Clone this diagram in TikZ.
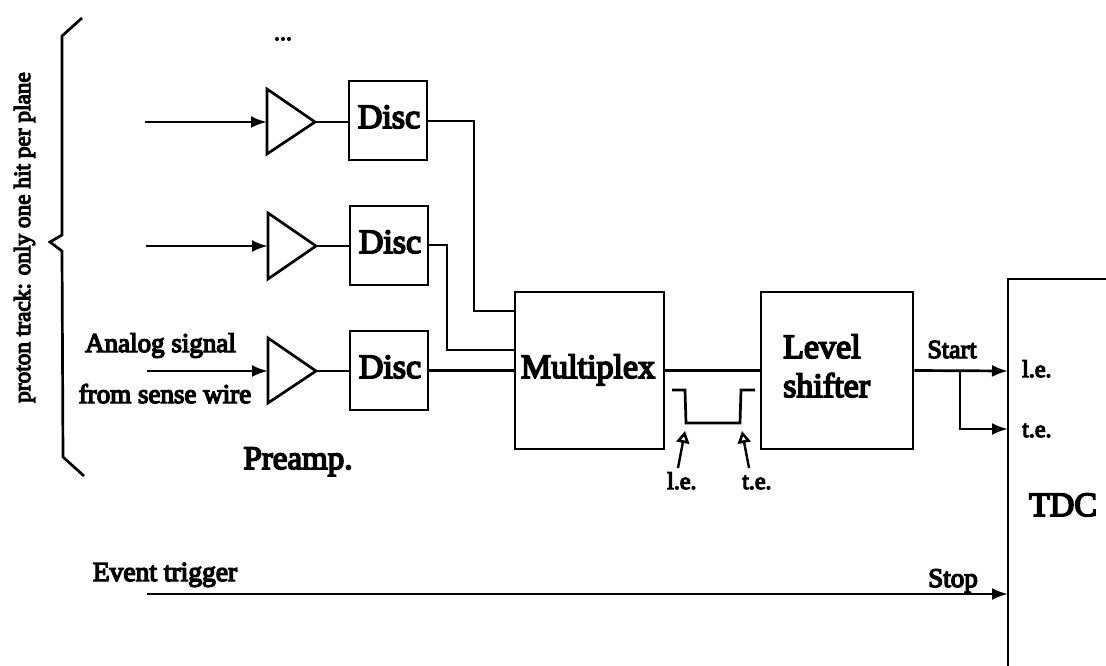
\documentclass[tikz,border=0pt]{standalone}
\usepackage{fontspec}
\setmainfont{Liberation Serif}
\newfontface\sfont[FakeBold=5]{Liberation Serif}
\usetikzlibrary{arrows.meta}
\tikzset{
  wire/.style={line width=2.7pt,line join=miter},
  sig/.style={wire,-{Latex[length=16pt,width=12pt]}},
  hollow/.style={line width=2.4pt,-{Triangle[open,length=12pt,width=13pt,line width=2.6pt]}},
  blockbox/.style={draw,line width=2.7pt,inner sep=0pt,minimum width=#1},
  lbl/.style={inner sep=0pt,anchor=base,font=\sfont\fontsize{#1}{#1}\selectfont},
  lblw/.style={inner sep=0pt,anchor=base west,font=\sfont\fontsize{#1}{#1}\selectfont},
}
\begin{document}
\begin{tikzpicture}[x=1pt,y=-1pt]
\useasboundingbox (0,0) rectangle (1106,666);
% boxes
\node[blockbox=78pt,minimum height=79pt] (d1) at (388,120.5) {};
\node[blockbox=78pt,minimum height=79pt] (d2) at (389,245.5) {};
\node[blockbox=78pt,minimum height=79pt] (d3) at (389,370.5) {};
\node[blockbox=149pt,minimum height=157pt] (mux) at (589.5,370.5) {};
\node[blockbox=152pt,minimum height=157pt] (ls) at (837,370.5) {};
% amplifiers
\coordinate (a1t) at (267,89); \coordinate (a1b) at (267,154); \coordinate (a1o) at (315,122); \coordinate (a1i) at (267,122);
\coordinate (a2t) at (268,213); \coordinate (a2b) at (268,279); \coordinate (a2o) at (316,246); \coordinate (a2i) at (268,246);
\coordinate (a3t) at (268,338); \coordinate (a3b) at (268,403); \coordinate (a3o) at (316,371); \coordinate (a3i) at (268,371);
\draw[wire] (a1t) -- (a1o) -- (a1b) -- cycle;
\draw[wire] (a2t) -- (a2o) -- (a2b) -- cycle;
\draw[wire] (a3t) -- (a3o) -- (a3b) -- cycle;
% inputs
\coordinate (i1) at (145,122); \coordinate (i2) at (146,246); \coordinate (i3) at (147,371);
\draw[sig] (i1) -- (a1i);
\draw[sig] (i2) -- (a2i);
\draw[sig] (i3) -- (a3i);
\draw[wire] (a1o) -- (a1o -| d1.west);
\draw[wire] (a2o) -- (a2o -| d2.west);
\draw[wire] (a3o) -- (a3o -| d3.west);
% disc to mux
\coordinate (m1) at (515,311); \coordinate (m2) at (515,350); \coordinate (m3) at (515,370);
\coordinate (o1) at (427,121); \coordinate (o2) at (428,245);
\draw[wire] (o1) -- (474,121) -- (474,311) -- (m1);
\draw[wire] (o2) -- (447,245) -- (447,350) -- (m2);
\draw[wire] (d3.east) -- (mux.west);
\draw[wire] (mux.east) -- (ls.west);
% TDC
\coordinate (tl) at (1008,666); \coordinate (tt) at (1008,279); \coordinate (tr) at (1106,279);
\draw[wire] (tl) -- (tt) -- (tr);
\coordinate (tin1) at (1008,371); \coordinate (tin2) at (1008,429); \coordinate (tin3) at (1008,594);
\coordinate (br) at (960,371); \coordinate (brd) at (960,429);
\draw[sig] (ls.east) -- (tin1);
\draw[sig] (br) -- (brd) -- (tin2);
\coordinate (ev) at (147,594);
\draw[sig] (ev) -- (tin3);
% pulse
\coordinate (p0) at (672,390); \coordinate (p1) at (685,390); \coordinate (p2) at (686,423);
\coordinate (p3) at (740,423); \coordinate (p4) at (741,390); \coordinate (p5) at (755,390);
\draw[wire] (p0) -- (p1) -- (p2) -- (p3) -- (p4) -- (p5);
\coordinate (q1) at (678,468); \coordinate (r1) at (685,431);
\coordinate (q2) at (749,468); \coordinate (r2) at (742,431);
\draw[hollow] (q1) -- (r1);
\draw[hollow] (q2) -- (r2);
% brace
\coordinate (b0) at (82,18); \coordinate (b1) at (62,36); \coordinate (b2) at (62,235); \coordinate (b3) at (50,242);
\coordinate (b4) at (62,251); \coordinate (b5) at (63,457); \coordinate (b6) at (84,476);
\draw[wire] (b0) -- (b1) -- (b2) -- (b3) -- (b4) -- (b5) -- (b6);
% text
\node[lbl=34] (t1) at (389,128) {Disc};
\node[lbl=34] (t2) at (390,253) {Disc};
\node[lbl=34] (t3) at (390,378) {Disc};
\node[lbl=34] (t4) at (588,378) {Multiplex};
\node[lblw=34] (t5) at (783,358) {Level};
\node[lblw=34] (t6) at (783,397) {shifter};
\node[lbl=33] (t7) at (298,469) {Preamp.};
\node[lbl=27] (t8) at (160.5,352) {Analog signal};
\node[lbl=27] (t9) at (165,403) {from sense wire};
\node[lbl=26] (t10) at (952,358) {Start};
\node[lbl=27] (t11) at (953,587) {Stop};
\node[lbl=27.5] (t12) at (165,581) {Event trigger};
\node[lblw=24] (t13) at (1022,377) {l.e.};
\node[lblw=24] (t14) at (1022,437) {t.e.};
\node[lblw=24] (t15) at (667,489) {l.e.};
\node[lblw=24] (t16) at (742,489) {t.e.};
\node[lbl=34] (t17) at (1063,516) {TDC};
\node[lbl=24] (t18) at (283,40) {...};
\node[inner sep=0pt,anchor=base,rotate=90,font=\sfont\fontsize{23.3}{23.3}\selectfont] (t19) at (30,237.5) {proton track: only one hit per plane};
\end{tikzpicture}
\end{document}
